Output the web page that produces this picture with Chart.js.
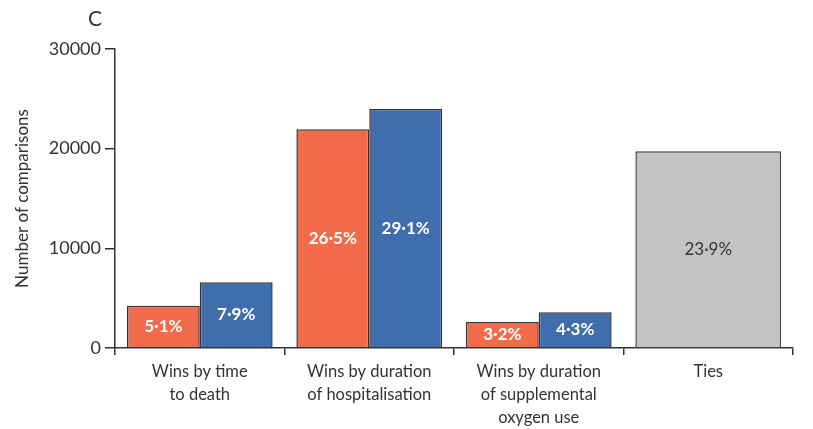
<!DOCTYPE html>
<html>
<head>
<meta charset="utf-8">
<script src="https://cdn.jsdelivr.net/npm/chart.js@4.4.1/dist/chart.umd.min.js"></script>
<style>
  html, body { margin: 0; padding: 0; background: #fff; }
  #wrap { width: 813px; height: 429px; }
</style>
</head>
<body>
<div id="wrap"><canvas id="barChart" width="813" height="429"></canvas></div>
<script>
  // categories and values
  var categories = [
    ['Wins by time', 'to death'],
    ['Wins by duration', 'of hospitalisation'],
    ['Wins by duration', 'of supplemental', 'oxygen use'],
    'Ties'
  ];
  var winsA = [4240, 21950, 2610, null];   // orange
  var winsB = [6590, 23980, 3580, null];   // blue
  var ties = [null, null, null, 19740];    // grey
  var pctA = ['5·1%', '26·5%', '3·2%', ''];
  var pctB = ['7·9%', '29·1%', '4·3%', ''];
  var pctTies = ['', '', '', '23·9%'];
  var yTicks = [0, 10000, 20000, 30000];

  var ink = '#333333';
  var fontFam = 'Lato, "Open Sans", sans-serif';

  // percent labels in the middle of each bar
  var barLabels = {
    id: 'barLabels',
    afterDatasetsDraw(chart) {
      var ctx = chart.ctx;
      var texts = [pctA, pctB, pctTies];
      ctx.save();
      ctx.textAlign = 'center';
      ctx.textBaseline = 'middle';
      chart.data.datasets.forEach(function (ds, i) {
        var meta = chart.getDatasetMeta(i);
        meta.data.forEach(function (bar, j) {
          var t = texts[i][j];
          if (!t) return;
          if (i === 2) {
            ctx.fillStyle = ink;
            ctx.font = '400 17px ' + fontFam;
          } else {
            ctx.fillStyle = '#ffffff';
            ctx.font = '700 17px ' + fontFam;
          }
          ctx.fillText(t, bar.x, (bar.y + bar.base) / 2);
        });
      });
      ctx.restore();
    }
  };

  // panel letter
  var panelLetter = {
    id: 'panelLetter',
    afterDraw(chart) {
      var ctx = chart.ctx;
      ctx.save();
      ctx.fillStyle = ink;
      ctx.font = '400 21px ' + fontFam;
      ctx.textAlign = 'center';
      ctx.textBaseline = 'middle';
      ctx.fillText('C', 95, 19);
      ctx.restore();
    }
  };

  var ctx = document.getElementById('barChart').getContext('2d');
  new Chart(ctx, {
    type: 'bar',
    data: {
      labels: categories,
      datasets: [
        { data: winsA, backgroundColor: '#f26c4c', borderColor: '#333', borderWidth: 1.5, borderSkipped: 'bottom' },
        { data: winsB, backgroundColor: '#406dab', borderColor: '#333', borderWidth: 1.5, borderSkipped: 'bottom' },
        { data: ties, backgroundColor: '#c3c4c3', borderColor: '#444', borderWidth: 1.5, borderSkipped: 'bottom' }
      ]
    },
    options: {
      responsive: false,
      animation: false,
      skipNull: true,
      categoryPercentage: 0.86,
      barPercentage: 1.0,
      layout: { padding: { top: 49, right: 20, left: 0, bottom: 0 } },
      plugins: {
        legend: { display: false },
        tooltip: { enabled: false }
      },
      scales: {
        x: {
          offset: true,
          grid: { offset: true, drawOnChartArea: false, drawTicks: true, tickLength: 7, color: '#333', lineWidth: 1.5 },
          border: { display: true, color: '#333', width: 1.5 },
          ticks: { color: ink, font: { family: fontFam, size: 16.5, lineHeight: 1.4 }, padding: 5, maxRotation: 0, autoSkip: false },
          afterFit: function (s) { s.height = 81; }
        },
        y: {
          min: 0,
          max: 30000,
          afterBuildTicks: function (s) { s.ticks = yTicks.map(function (v) { return { value: v }; }); },
          grid: { drawOnChartArea: false, drawTicks: true, tickLength: 10, color: '#333', lineWidth: 1.5 },
          border: { display: true, color: '#333', width: 1.5 },
          ticks: { color: ink, font: { family: fontFam, size: 18 }, padding: 4, callback: function (v) { return String(v); } },
          title: { display: true, text: 'Number of comparisons', color: ink, font: { family: fontFam, size: 17 }, padding: { top: 12, bottom: 0 } },
          afterFit: function (s) { s.width = 115; }
        }
      }
    },
    plugins: [barLabels, panelLetter]
  });
</script>
</body>
</html>
